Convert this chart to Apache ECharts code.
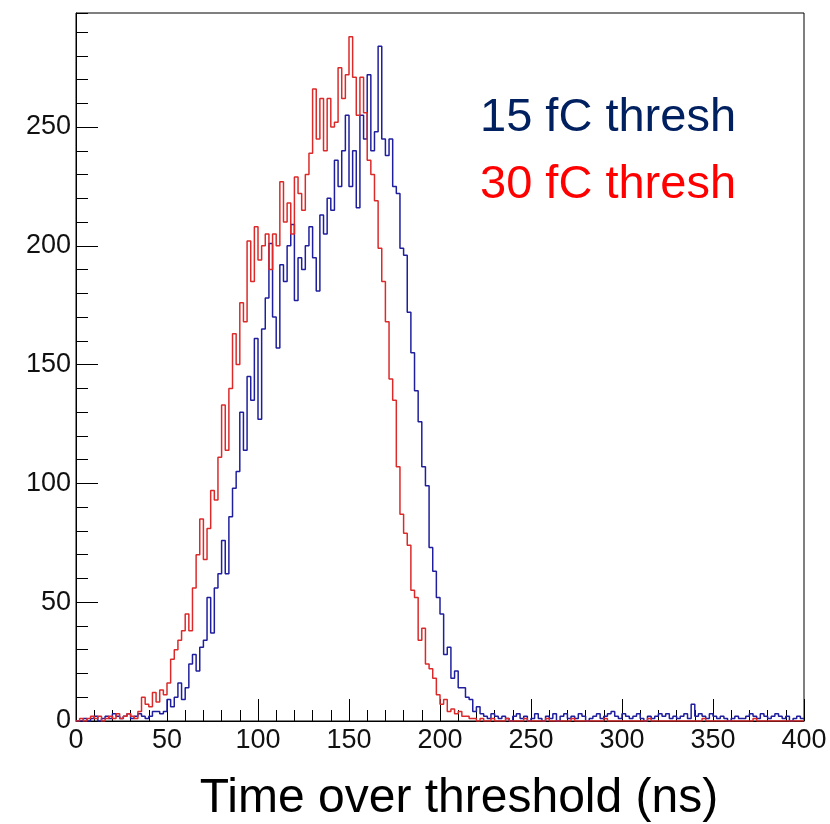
<!DOCTYPE html>
<html>
<head>
<meta charset="utf-8">
<title>Time over threshold</title>
<script src="https://cdn.jsdelivr.net/npm/echarts@6/dist/echarts.min.js"></script>
<style>
  html, body { margin: 0; padding: 0; background: #fff; }
  #chart { width: 830px; height: 824px; }
</style>
</head>
<body>
<div id="chart"></div>
<script>
// histogram, 2 ns bins from 0 to 400 ns
var binWidth = 2
var xMin = 0
var xMax = 400
var yMax = 298

// 15 fC threshold counts
var blueCounts = [
  0, 0, 1, 0, 1, 2, 0, 1, 2, 1, 3, 2, 1, 2, 3, 1, 2, 3, 2, 1, 2, 4, 4, 3, 4,
  9, 6, 10, 16, 9, 14, 24, 28, 21, 31, 34, 52, 37, 56, 62, 76, 62, 86, 98, 105, 130, 114, 145, 135, 161,
  127, 165, 178, 201, 170, 157, 192, 185, 200, 209, 177, 195, 190, 200, 208, 195, 181, 213, 205, 220, 215, 236, 225, 240, 255,
  225, 240, 216, 255, 245, 272, 240, 248, 284, 245, 238, 245, 225, 222, 199, 196, 172, 155, 139, 126, 107, 99, 73, 63, 52,
  45, 28, 31, 18, 21, 14, 14, 10, 9, 4, 6, 3,
  2, 1, 3, 2, 1, 2, 1, 0, 2, 3, 1, 2, 0, 1, 3, 1, 0, 2, 1, 3, 0, 2, 3, 1, 2, 1, 3, 2, 0, 1,
  2, 3, 1, 2, 3, 4, 2, 1, 3, 2, 1, 2, 3, 1, 0, 2, 1, 2, 3, 2, 3, 1, 2, 1, 2, 3, 1, 7, 2, 3,
  2, 1, 3, 2, 1, 2, 1, 0, 1, 2, 1, 1, 2, 3, 2, 1, 3, 2, 1, 2, 3, 2, 1, 2, 0, 1, 2, 1
]

// 30 fC threshold counts
var redCounts = [
  0, 1, 0, 1, 2, 1, 2, 0, 1, 2, 1, 3, 1, 2, 3, 2, 1, 4, 10, 7, 6, 12, 8, 13, 11,
  16, 26, 30, 34, 38, 45, 38, 56, 70, 85, 68, 81, 97, 93, 111, 133, 114, 140, 163, 150, 176, 168, 202, 185, 208,
  194, 200, 205, 190, 205, 200, 227, 210, 218, 205, 229, 222, 215, 230, 239, 266, 245, 262, 240, 262, 250, 252, 275, 262, 272,
  288, 271, 255, 271, 256, 236, 230, 219, 199, 185, 168, 144, 135, 107, 87, 79, 74, 55, 52, 34, 39, 24, 22, 18, 11,
  7, 9, 4, 5, 3, 4, 2, 2, 1, 1,
  0, 1, 0, 0, 1, 0, 0, 0, 1, 0, 0, 0, 0, 1, 0, 0, 0, 0, 0, 1, 0, 0, 0, 0, 0, 0, 1, 0, 0, 0,
  0, 0, 0, 0, 0, 1, 0, 0, 0, 0, 0, 0, 0, 0, 0, 0, 0, 1, 0, 0, 0, 0, 0, 0, 0, 0, 0, 0, 0, 0,
  0, 0, 1, 0, 0, 0, 0, 0, 0, 0, 0, 0, 0, 0, 0, 0, 1, 0, 0, 0, 0, 0, 0, 0, 0, 0, 0, 0, 0, 0
]

var seriesNames = ['15 fC thresh', '30 fC thresh']
var axisTitle = 'Time over threshold (ns)'

// bin left edges + closing point at the last edge
function toSteps(counts) {
  var pts = counts.map(function (c, i) { return [xMin + i * binWidth, c] })
  pts.push([xMin + counts.length * binWidth, counts[counts.length - 1]])
  return pts
}

var font = 'Liberation Sans, Arial, Helvetica, sans-serif'
var chart = echarts.init(document.getElementById('chart'), null, { renderer: 'canvas' })

chart.setOption({
  animation: false,
  backgroundColor: '#fff',
  grid: {
    left: 76,
    right: 26,
    top: 13,
    bottom: 103,
    show: true,
    borderColor: '#000',
    borderWidth: 1,
    backgroundColor: 'transparent'
  },
  xAxis: [
    {
      type: 'value',
      position: 'bottom',
      min: xMin,
      max: xMax,
      interval: 50,
      axisLine: { onZero: false, lineStyle: { color: '#000', width: 1 } },
      axisTick: { inside: true, length: 22, lineStyle: { color: '#000' } },
      axisLabel: { color: '#111', fontSize: 27, fontFamily: font, margin: 6 },
      splitLine: { show: false }
    },
    {
      // minor ticks
      type: 'value',
      position: 'bottom',
      min: xMin,
      max: xMax,
      interval: 10,
      axisLine: { show: false },
      axisTick: { inside: true, length: 11, lineStyle: { color: '#000' } },
      axisLabel: { show: false },
      splitLine: { show: false }
    }
  ],
  yAxis: [
    {
      type: 'value',
      position: 'left',
      min: 0,
      max: yMax,
      interval: 50,
      axisLine: { show: true, onZero: false, lineStyle: { color: '#000', width: 1 } },
      axisTick: { show: true, inside: true, length: 22, lineStyle: { color: '#000' } },
      axisLabel: { color: '#111', fontSize: 27, fontFamily: font, margin: 5, showMaxLabel: false },
      splitLine: { show: false }
    },
    {
      type: 'value',
      position: 'left',
      min: 0,
      max: yMax,
      interval: 10,
      axisLine: { show: false },
      axisTick: { show: true, inside: true, length: 12, lineStyle: { color: '#000' } },
      axisLabel: { show: false },
      splitLine: { show: false }
    }
  ],
  series: [
    {
      name: seriesNames[0],
      type: 'line',
      step: 'end',
      showSymbol: false,
      data: toSteps(blueCounts),
      lineStyle: { color: '#1f1f9e', width: 1.5 },
      z: 2
    },
    {
      name: seriesNames[1],
      type: 'line',
      step: 'end',
      showSymbol: false,
      data: toSteps(redCounts),
      lineStyle: { color: '#dc2a2a', width: 1.5 },
      z: 3
    }
  ],
  graphic: [
    {
      type: 'text',
      left: 480,
      top: 95,
      style: { text: seriesNames[0], fill: '#002060', font: '47px ' + font }
    },
    {
      type: 'text',
      left: 480,
      top: 162,
      style: { text: seriesNames[1], fill: '#ff0000', font: '47px ' + font }
    },
    {
      type: 'text',
      x: 459,
      y: 799,
      style: { text: axisTitle, fill: '#000', font: '48px ' + font, align: 'center', verticalAlign: 'middle' }
    }
  ]
})
</script>
</body>
</html>
